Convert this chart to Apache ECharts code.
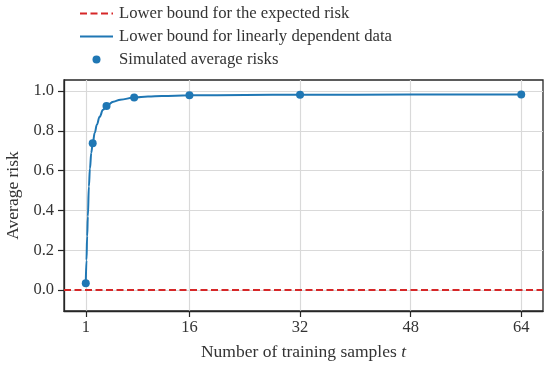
<!DOCTYPE html>
<html><head><meta charset="utf-8">
<script src="https://cdn.jsdelivr.net/npm/echarts@6/dist/echarts.min.js"></script>
<style>html,body{margin:0;padding:0;background:#fff}#c{width:553px;height:369px}</style>
</head><body><div id="c"></div>
<script>
const xTicks = [1, 16, 32, 48, 64];
const yTicks = [0, 0.2, 0.4, 0.6, 0.8, 1.0];
const xMin = -2.15, xMax = 67.15;
const yMin = -0.105, yMax = 1.055;
const expectedBound = 0.0;
const boundT = [1, 1.1, 1.2, 1.3, 1.45, 1.6, 1.8, 2, 2.3, 2.6, 3, 3.5, 4, 5, 6, 8, 10, 12, 16, 24, 32, 48, 64];
const boundRisk = [0.034, 0.15, 0.27, 0.37, 0.52, 0.61, 0.69, 0.737, 0.79, 0.83, 0.87, 0.905, 0.925, 0.946, 0.956, 0.967, 0.972, 0.975, 0.978, 0.98, 0.981, 0.982, 0.982];
const simT = [1, 2, 4, 8, 16, 32, 64];
const simRisk = [0.034, 0.737, 0.925, 0.967, 0.978, 0.981, 0.982];

const font = '"Liberation Serif", "DejaVu Serif", serif';
const txt = '#333';
const frame = '#262626';
const chart = echarts.init(document.getElementById('c'));
chart.setOption({
  animation: false,
  textStyle: {fontFamily: font},
  legend: {
    orient: 'vertical', left: 74, top: 0, itemWidth: 33, itemHeight: 8, itemGap: 6,
    textStyle: {fontFamily: font, fontSize: 16.7, color: txt, padding: [0,0,0,1]},
    data: [
      {name: 'Lower bound for the expected risk', itemStyle: {opacity: 0}},
      {name: 'Lower bound for linearly dependent data', itemStyle: {opacity: 0}},
      {name: 'Simulated average risks'}
    ]
  },
  grid: {left: 64, right: 10, top: 80, bottom: 58, show: true, borderColor: frame, borderWidth: 1.3, backgroundColor: 'transparent', outerBoundsMode: 'none', containLabel: false},
  xAxis: {
    type: 'value', min: xMin, max: xMax,
    name: 'Number of training samples {i|t}', nameLocation: 'middle', nameGap: 32,
    nameTextStyle: {fontFamily: font, fontSize: 17.5, color: txt, rich: {i: {fontFamily: font, fontStyle: 'italic', fontSize: 17.5, color: txt}}},
    axisLine: {show: true, onZero: false, lineStyle: {color: frame, width: 1.3}},
    axisTick: {show: true, inside: false, length: 6, lineStyle: {color: frame, width: 1.2}, customValues: xTicks},
    axisLabel: {customValues: xTicks, fontFamily: font, fontSize: 16.5, color: txt, margin: 8},
    splitLine: {show: true, lineStyle: {color: '#d9d9d9', width: 1.2}}
  },
  yAxis: {
    type: 'value', min: yMin, max: yMax,
    name: 'Average risk', nameLocation: 'middle', nameGap: 36,
    nameTextStyle: {fontFamily: font, fontSize: 17.5, color: txt},
    axisLine: {show: true, onZero: false, lineStyle: {color: frame, width: 1.3}},
    axisTick: {show: true, inside: false, length: 6, lineStyle: {color: frame, width: 1.2}, customValues: yTicks},
    axisLabel: {customValues: yTicks, fontFamily: font, fontSize: 16.5, color: txt, margin: 10, formatter: v => v.toFixed(1)},
    splitLine: {show: true, lineStyle: {color: '#d9d9d9', width: 1.2}}
  },
  series: [
    {name: 'Lower bound for the expected risk', type: 'line', symbol: 'none', z: 3,
     data: [[xMin, expectedBound], [xMax, expectedBound]],
     lineStyle: {color: '#d62728', width: 2, type: [7, 3.5]}, itemStyle: {color: '#d62728'}},
    {name: 'Lower bound for linearly dependent data', type: 'line', symbol: 'none', smooth: 0.4, smoothMonotone: 'x', z: 4,
     data: boundT.map((t, i) => [t, boundRisk[i]]),
     lineStyle: {color: '#1f77b4', width: 2}, itemStyle: {color: '#1f77b4'}},
    {name: 'Simulated average risks', type: 'scatter', symbolSize: 8, z: 5,
     data: simT.map((t, i) => [t, simRisk[i]]),
     itemStyle: {color: '#1f77b4', opacity: 1}}
  ]
});
</script></body></html>
